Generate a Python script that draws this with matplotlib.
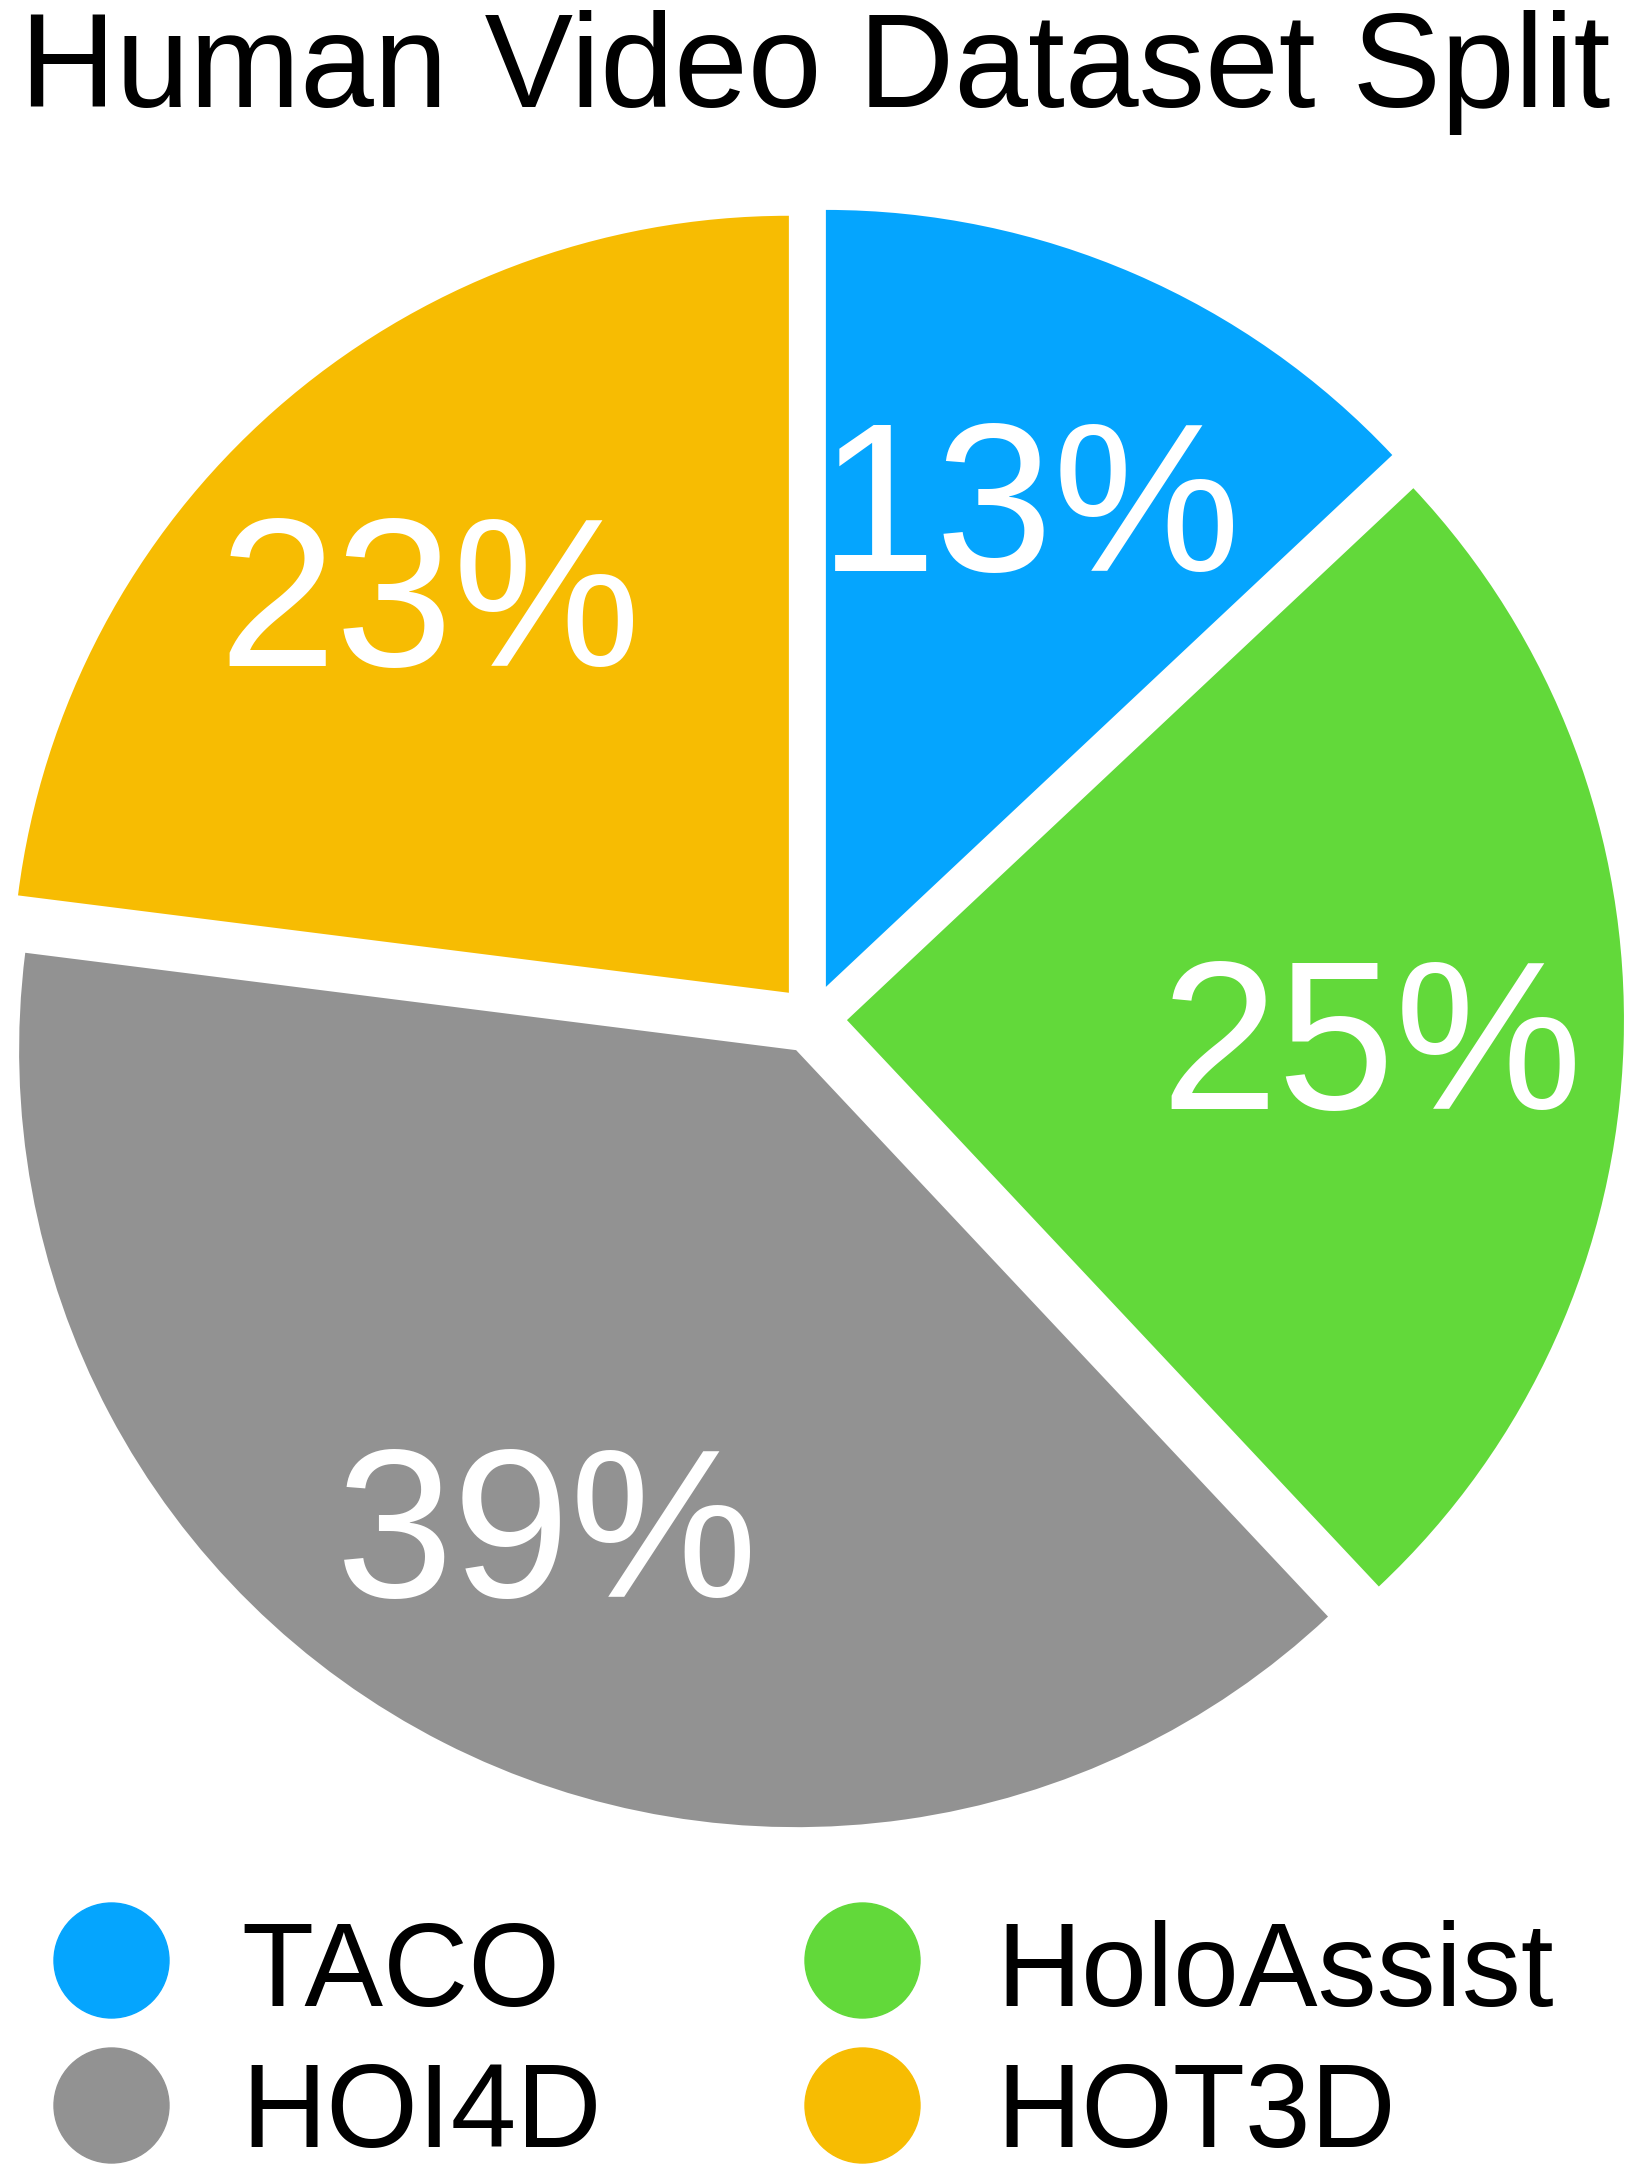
import matplotlib.pyplot as plt
from matplotlib.transforms import offset_copy

plt.rcParams['font.family'] = ['Liberation Sans', 'DejaVu Sans']

# data
labels = ['TACO', 'HoloAssist', 'HOI4D', 'HOT3D']
shares = [13, 25, 39, 23]
colors = ['#05A5FE', '#62D93A', '#929292', '#F7BC02']

W, H = 1643, 2174
fig = plt.figure(figsize=(W / 100, H / 100), dpi=100)

# axes fills the figure; one data unit = pie radius in pixels
cx, cy, r = 812, 1019, 777
ax = fig.add_axes([0, 0, 1, 1])
wedges, texts, autotexts = ax.pie(
    shares, colors=colors, startangle=90, counterclock=False,
    explode=[0.045] * len(shares), autopct='%d%%', pctdistance=0.685,
    textprops={'color': 'white', 'fontsize': 152})
ax.set_xlim(-cx / r, (W - cx) / r)
ax.set_ylim(-(H - cy) / r, cy / r)
ax.set_aspect('auto')
ax.axis('off')

# nudge the percentages a bit (centre on the digits, not the line box)
shifted = offset_copy(ax.transData, fig=fig, x=-7, y=-18, units='dots')
for t in autotexts:
    t.set_transform(shifted)

fig.text(815 / W, 1 - 107 / H, 'Human Video Dataset Split', ha='center',
         va='baseline', fontsize=95.5, color='black')

# legend drawn by hand, 2 columns
dot_x = [111, 862]
txt_x = [241, 996]
rows_y = [1960, 2105]
base_y = [2006, 2147]
for i, (lab, col) in enumerate(zip(labels, colors)):
    c, rw = i % 2, i // 2
    fig.add_artist(plt.Line2D([dot_x[c] / W], [1 - rows_y[rw] / H], marker='o',
                              markersize=82.8, color=col, linestyle='none',
                              transform=fig.transFigure))
    fig.text(txt_x[c] / W, 1 - base_y[rw] / H, lab, ha='left', va='baseline',
             fontsize=85, color='black')

fig.savefig('out.png', dpi=100)
